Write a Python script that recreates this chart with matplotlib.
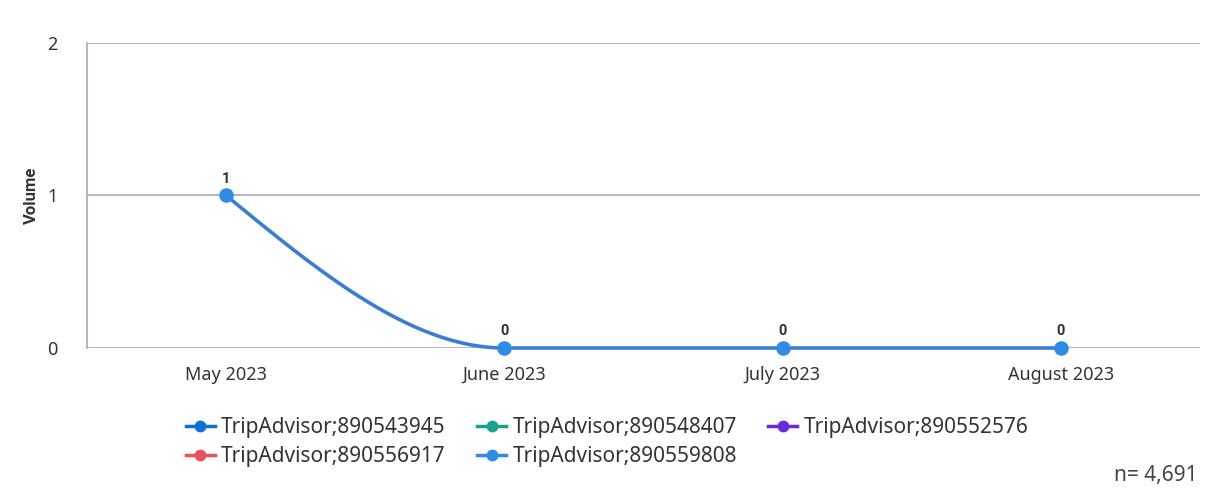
import matplotlib
matplotlib.use("Agg")
import matplotlib.pyplot as plt
from matplotlib.lines import Line2D
import numpy as np

plt.rcParams["font.family"] = ["Noto Sans", "DejaVu Sans"]

months = ["May 2023", "June 2023", "July 2023", "August 2023"]
series_names = [
    "TripAdvisor;890543945",
    "TripAdvisor;890548407",
    "TripAdvisor;890552576",
    "TripAdvisor;890556917",
    "TripAdvisor;890559808",
]
series_colors = ["#0b6fd9", "#1aa38c", "#6a2be0", "#e8525e", "#2e8be6"]
# only the last series has data in the view
volume = [1, 0, 0, 0]
n_total = "n= 4,691"


def pchip(x, y, num=60):
    # monotone cubic (Fritsch-Carlson) used only to draw the smooth line
    x = np.asarray(x, float)
    y = np.asarray(y, float)
    h = np.diff(x)
    d = np.diff(y) / h
    m = np.zeros_like(y)
    for k in range(1, len(y) - 1):
        if d[k - 1] * d[k] > 0:
            w1 = 2 * h[k] + h[k - 1]
            w2 = h[k] + 2 * h[k - 1]
            m[k] = (w1 + w2) / (w1 / d[k - 1] + w2 / d[k])
    def end(h0, h1, d0, d1):
        t = ((2 * h0 + h1) * d0 - h0 * d1) / (h0 + h1)
        if np.sign(t) != np.sign(d0):
            t = 0
        elif np.sign(d0) != np.sign(d1) and abs(t) > abs(3 * d0):
            t = 3 * d0
        return t
    m[0] = end(h[0], h[1], d[0], d[1])
    m[-1] = end(h[-1], h[-2], d[-1], d[-2])
    xs, ys = [], []
    for k in range(len(h)):
        t = np.linspace(0, 1, num)
        h00 = 2 * t**3 - 3 * t**2 + 1
        h10 = t**3 - 2 * t**2 + t
        h01 = -2 * t**3 + 3 * t**2
        h11 = t**3 - t**2
        xs.append(x[k] + t * h[k])
        ys.append(h00 * y[k] + h10 * h[k] * m[k] + h01 * y[k + 1] + h11 * h[k] * m[k + 1])
    return np.concatenate(xs), np.concatenate(ys)


BOLD = ["Roboto", "DejaVu Sans"]

fig = plt.figure(figsize=(12.1, 4.98), dpi=100)
ax = fig.add_axes([0.0719, 0.3012, 0.9198, 0.6125])

xpos = np.arange(len(months))
sx, sy = pchip(xpos, volume)
ax.plot(sx, sy, color="#3a7dd6", lw=2.6, zorder=3, solid_capstyle="round", clip_on=False)
ax.scatter(xpos, volume, s=110, color=series_colors[-1], zorder=4, linewidths=0, clip_on=False)

for xi, v in zip(xpos, volume):
    ax.annotate(str(v), (xi, v), xytext=(0, 7), textcoords="offset points",
                ha="center", va="bottom", fontsize=10.5, fontweight="bold",
                family=BOLD, color="#333333")

ax.set_xlim(-0.5, len(months) - 0.5)
ax.set_ylim(0, 2)
ax.set_yticks([0, 1, 2])
ax.set_xticks(xpos)
ax.set_xticklabels(months)
ax.tick_params(axis="x", length=0, pad=13, labelsize=13, labelcolor="#333333")
ax.tick_params(axis="y", length=0, pad=21, labelsize=13, labelcolor="#333333")
ax.grid(axis="y", color="#a8a8bd", lw=1.2)
ax.set_axisbelow(True)
for s in ["top", "right", "bottom"]:
    ax.spines[s].set_visible(False)
ax.spines["left"].set_color("#a8a8bd")
ax.spines["left"].set_linewidth(1.2)
ax.set_ylabel("Volume", fontsize=12, fontweight="bold", family=BOLD, color="#333333")
ax.yaxis.set_label_coords(-0.043, 0.5)

handles = [Line2D([0], [0], color=c, lw=2.5, marker="o", markersize=7.5)
           for c in series_colors]
order = [0, 3, 1, 4, 2]
fig.legend([handles[i] for i in order], [series_names[i] for i in order],
           ncol=3, loc="upper left", bbox_to_anchor=(0.138, 0.2),
           frameon=False, fontsize=15, handlelength=1.4, handletextpad=0.3,
           columnspacing=1.5, labelspacing=0.4, labelcolor="#333333")

fig.text(0.99, 0.025, n_total, ha="right", va="bottom", fontsize=15, color="#444444")

fig.savefig("out.png", dpi=100)
